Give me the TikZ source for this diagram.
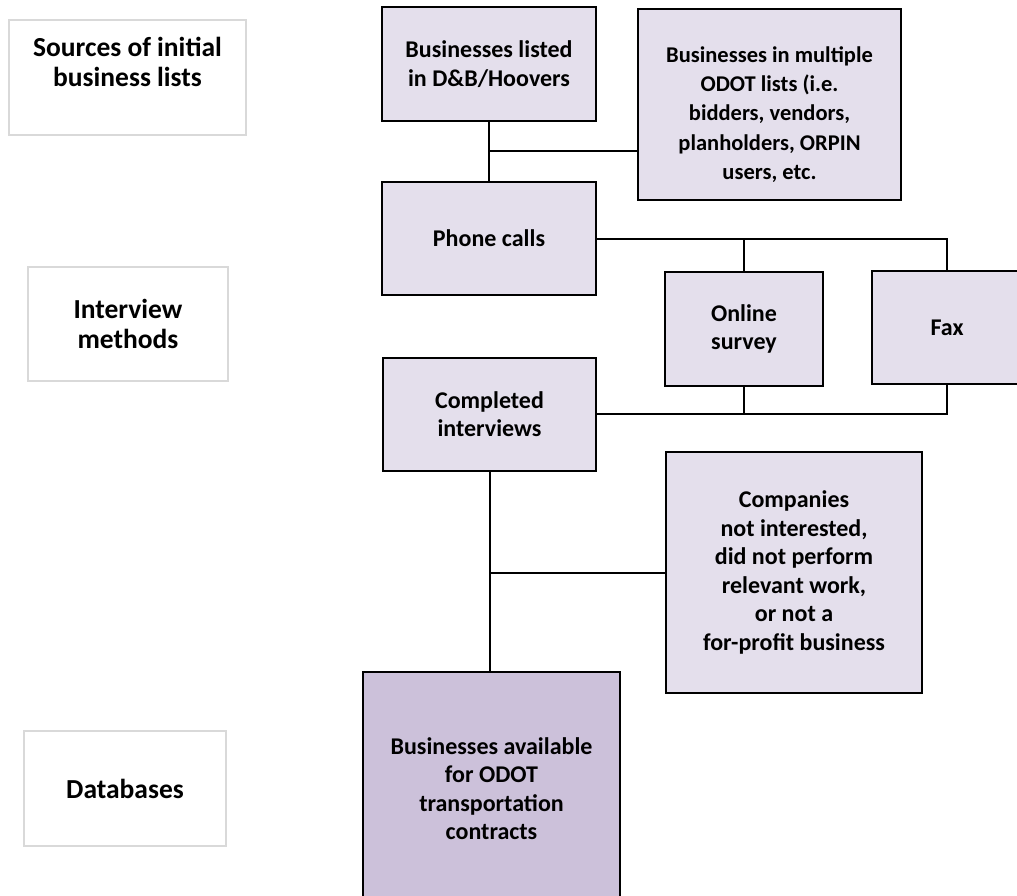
\documentclass[tikz,border=0pt]{standalone}
\usepackage{fontspec}
\setmainfont{Carlito}
\usetikzlibrary{positioning}
\definecolor{boxfill}{HTML}{E4DFEC}
\definecolor{boxdark}{HTML}{CCC1DA}
\definecolor{lblline}{HTML}{D9D9D9}

\begin{document}
\begin{tikzpicture}[x=1pt,y=-1pt,
        flowbox/.style={draw=black,line width=2pt,fill=boxfill,align=center,inner sep=0pt,
            font=\bfseries\fontsize{24}{28.5}\selectfont},
        lblbox/.style={draw=lblline,line width=1.2pt,fill=white,inner sep=0pt},
        lbltext/.style={align=center,inner sep=0pt,font=\bfseries\fontsize{27.5}{30}\selectfont},
        link/.style={line width=2pt}]
        % Fix the page size
        \useasboundingbox (0,0) rectangle (1017,896);
        % Draw row labels
        \node[lblbox,minimum width=237pt,minimum height=115pt] (srclbl) at (127.5,77.5) {};
        \node[lbltext,below=18pt of srclbl.north] (srctxt) {Sources of initial\\business lists};
        \node[lblbox,lbltext,minimum width=200pt,minimum height=114pt] (intlbl) at (128,324) {Interview\\methods};
        \node[lblbox,lbltext,minimum width=202pt,minimum height=115pt] (dblbl) at (125,788.5) {Databases};
        % Draw sources
        \node[flowbox,minimum width=214pt,minimum height=114pt] (dnb) at (489,64) {Businesses listed\\in D\&B/Hoovers};
        \node[flowbox,minimum width=263pt,minimum height=191pt,
            label={[align=center,yshift=-10pt,font=\bfseries\fontsize{22.5}{29.25}\selectfont]center:Businesses in multiple\\ODOT lists (i.e.\\bidders, vendors,\\planholders, ORPIN\\users, etc.}] (odot) at (769.5,104.5) {};
        % Draw interview methods
        \node[flowbox,minimum width=214pt,minimum height=113pt] (phone) at (489,238.5) {Phone calls};
        \node[flowbox,minimum width=158pt,minimum height=114pt] (online) at (744,329) {Online\\survey};
        \node[flowbox,minimum width=150pt,minimum height=113pt] (fax) at (947,327.5) {Fax};
        \node[flowbox,minimum width=213pt,minimum height=113pt] (completed) at (489.5,414) {Completed\\interviews};
        % Draw drop-outs
        \node[flowbox,minimum width=256pt,minimum height=241pt] (notint) at (794,572.5) {Companies\\not interested,\\did not perform\\relevant work,\\or not a\\for-profit business};
        % Draw database
        \node[flowbox,fill=boxdark,minimum width=257pt,minimum height=233pt] (avail) at (491.5,788.5) {Businesses available\\for ODOT\\transportation\\contracts};
        % Draw connectors
        \coordinate (srcjoin) at (489,151);
        \draw[link] (dnb) -- (phone);
        \draw[link] (srcjoin) -- (srcjoin -| odot.west);
        \draw[link] (phone.east) -- (phone.east -| fax.north) -- (fax.north);
        \draw[link] (online.north) -- (online.north |- phone.east);
        \draw[link] (completed.east) -- (completed.east -| fax.south) -- (fax.south);
        \draw[link] (online.south) -- (online.south |- completed.east);
        \draw[link] (completed.south) -- (completed.south |- avail.north);
        \draw[link] (notint.west) -- (notint.west -| completed.south);
    \end{tikzpicture}
\end{document}
